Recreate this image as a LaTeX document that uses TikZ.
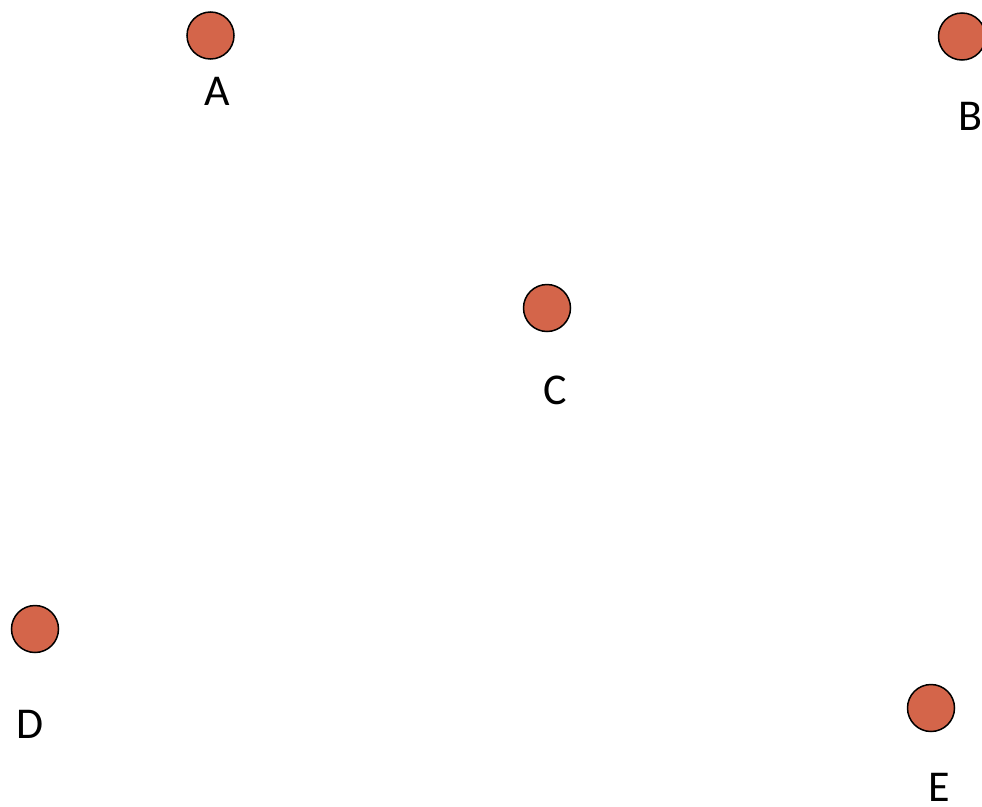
\documentclass[tikz,border=0pt]{standalone}
\usepackage{fontspec}
\setmainfont{Carlito}
\definecolor{dotfill}{RGB}{212,101,74}
\begin{document}
\begin{tikzpicture}[x=1pt,y=1pt,
  dot/.style={circle,draw=black,line width=1.5pt,fill=dotfill,minimum size=47pt,inner sep=0pt},
  lbl/.style={anchor=base,inner sep=0pt,font=\fontsize{44}{50}\selectfont}]
\useasboundingbox (0,0) rectangle (982,-806);
\node[dot] (A) at (210.5,-35.5) {};
\node[dot] (B) at (962,-36.5) {};
\node[dot] (C) at (547,-308) {};
\node[dot] (D) at (35,-629) {};
\node[dot] (E) at (931,-708) {};
\node[lbl] (lA) at (217.5,-105) {A};
\node[lbl] (lB) at (970,-130) {B};
\node[lbl] (lC) at (555,-404) {C};
\node[lbl] (lD) at (30,-738) {D};
\node[lbl] (lE) at (939,-801.5) {E};
\end{tikzpicture}
\end{document}
